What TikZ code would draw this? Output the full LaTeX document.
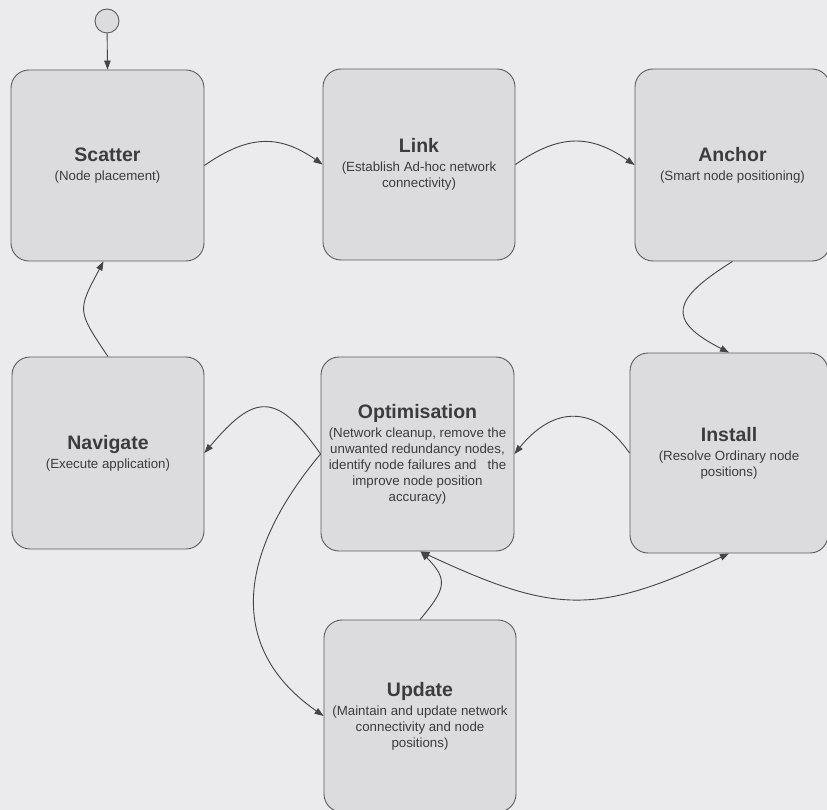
\documentclass[tikz,border=0pt]{standalone}
\usepackage{fontspec}
\setmainfont{Liberation Sans}
\usetikzlibrary{arrows.meta}

\definecolor{bg}{HTML}{EBEBED}
\definecolor{boxgray}{HTML}{DCDCDE}
\definecolor{edgegray}{HTML}{5C5C5C}
\definecolor{linegray}{HTML}{454545}
\definecolor{txtgray}{HTML}{3C3C3C}

% bold heading line of a stage box
\newcommand\stagetitle[1]{{\fontsize{19.5}{20}\selectfont\bfseries #1}\\[3pt]}

\begin{document}
\begin{tikzpicture}[x=1pt,y=1pt,
  stage/.style={draw=edgegray, line width=0.9pt, fill=boxgray,
    rounded corners=18pt, inner sep=0pt, align=center, text=txtgray,
    font=\fontsize{13.3}{16}\selectfont},
  flow/.style={draw=linegray, line width=0.9pt,
    -{Triangle[length=9pt,width=6.5pt]}},
  twoway/.style={draw=linegray, line width=0.9pt,
    {Triangle[length=9pt,width=6.5pt]}-{Triangle[length=9pt,width=6.5pt]}},
]
\fill[bg] (0,0) rectangle (827,-810);
\useasboundingbox (0,0) rectangle (827,-810);

% initial state
\node[circle, draw=edgegray, fill=boxgray, line width=0.9pt,
  minimum size=24pt, inner sep=0pt] (start) at (107,-21) {};

% stages
\node[stage, minimum width=193pt, minimum height=191pt] (scatter) at (107.5,-165.5)
  {\stagetitle{Scatter}(Node placement)};
\node[stage, minimum width=192pt, minimum height=191pt] (link) at (419,-164.5)
  {\stagetitle{Link}(Establish Ad-hoc network\\connectivity)};
\node[stage, minimum width=195pt, minimum height=192pt] (anchor) at (732.5,-165)
  {\stagetitle{Anchor}(Smart node positioning)};
\node[stage, minimum width=192pt, minimum height=192pt] (navigate) at (108,-453)
  {\stagetitle{Navigate}(Execute application)};
\node[stage, minimum width=193pt, minimum height=194pt] (optim) at (417.5,-454)
  {\stagetitle{Optimisation}(Network cleanup, remove the\\unwanted redundancy nodes,\\identify node failures and\ \ \ the\\improve node position\\accuracy)};
\node[stage, minimum width=198pt, minimum height=200pt] (install) at (729,-453)
  {\stagetitle{Install}(Resolve Ordinary node\\positions)};
\node[stage, minimum width=192pt, minimum height=192pt] (update) at (420,-716)
  {\stagetitle{Update}(Maintain and update network\\connectivity and node\\positions)};

% transitions
\draw[flow] (start) -- (scatter.north);
\draw[flow] (scatter.east) to[out=35,in=145,looseness=1.15] (link.west);
\draw[flow] (link.east) to[out=35,in=145,looseness=1.15] (anchor.west);
\draw[flow] (anchor.south) to[out=-148,in=153,looseness=2] (install.north);
\draw[flow] (install.west) to[out=125,in=51,looseness=1.35] (optim.east);
\draw[flow] (optim.west) to[out=125,in=50,looseness=1.7] (navigate.east);
\draw[flow] (optim.west) to[out=-130,in=145,looseness=1.2] (update.west);
\draw[flow] (navigate.north) to[out=124,in=-118,looseness=1.5] ([xshift=-4pt]scatter.south);
\draw[flow] (update.north) to[out=50,in=-45,looseness=1.5] ([xshift=3pt]optim.south);
\draw[twoway] ([xshift=3pt]optim.south) to[out=-25,in=-155,looseness=1.22] (install.south);
\end{tikzpicture}
\end{document}
